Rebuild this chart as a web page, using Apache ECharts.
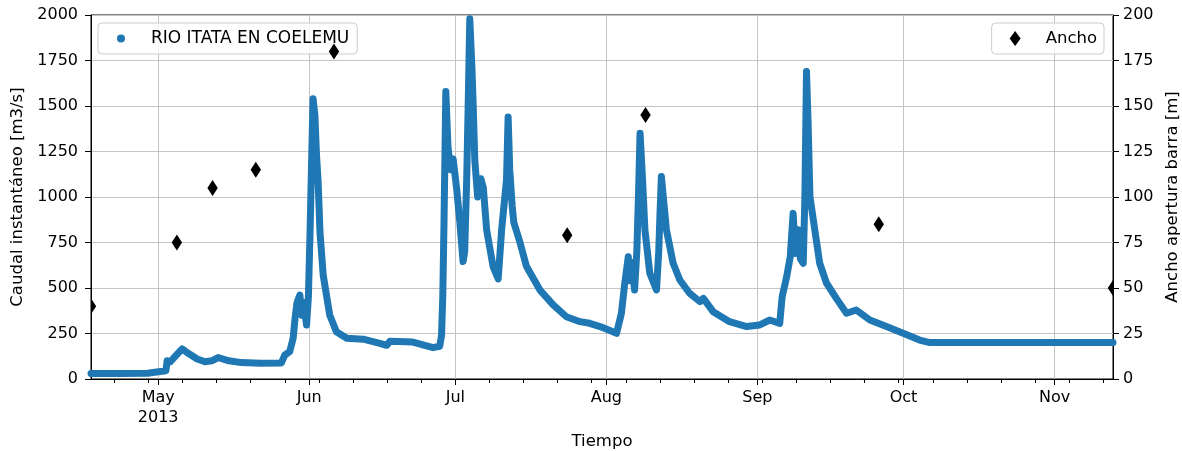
<!DOCTYPE html>
<html>
<head>
<meta charset="utf-8">
<script src="https://cdn.jsdelivr.net/npm/echarts@6/dist/echarts.min.js"></script>
<style>
html,body{margin:0;padding:0;background:#fff;}
#chart{width:1182px;height:451px;}
</style>
</head>
<body>
<div id="chart"></div>
<script>
// ---- Data ----
const flowTimes = [
 '2013-04-17 05:00','2013-04-23 00:00','2013-04-28 20:00','2013-04-29 04:00','2013-05-02 14:00','2013-05-02 20:00',
 '2013-05-03 12:00','2013-05-04 16:00','2013-05-05 22:00','2013-05-07 06:00','2013-05-09 00:00','2013-05-10 14:00',
 '2013-05-12 00:00','2013-05-13 07:00','2013-05-15 12:00','2013-05-18 02:00','2013-05-22 00:00','2013-05-26 07:00',
 '2013-05-27 00:00','2013-05-28 00:00','2013-05-28 17:00','2013-05-29 02:00','2013-05-29 12:00','2013-05-30 02:00',
 '2013-05-30 12:00','2013-05-30 20:00','2013-05-31 11:00','2013-05-31 20:00','2013-06-01 04:00','2013-06-01 12:00',
 '2013-06-01 19:00','2013-06-02 04:00','2013-06-02 12:00','2013-06-02 20:00','2013-06-03 05:00','2013-06-03 21:00',
 '2013-06-05 05:00','2013-06-06 14:00','2013-06-08 17:00','2013-06-12 02:00','2013-06-15 12:00','2013-06-16 22:00',
 '2013-06-17 14:00','2013-06-22 07:00','2013-06-26 10:00','2013-06-27 19:00','2013-06-28 04:00','2013-06-28 10:00',
 '2013-06-28 16:00','2013-06-28 21:00','2013-06-29 01:00','2013-06-29 12:00','2013-06-30 00:00','2013-06-30 13:00',
 '2013-07-01 06:00','2013-07-01 22:00','2013-07-02 14:00','2013-07-02 22:00','2013-07-03 08:00','2013-07-03 16:00',
 '2013-07-03 23:00','2013-07-04 10:00','2013-07-04 16:00','2013-07-05 00:00','2013-07-05 14:00','2013-07-06 06:00',
 '2013-07-06 18:00','2013-07-07 10:00','2013-07-08 18:00','2013-07-09 19:00','2013-07-10 12:00','2013-07-11 12:00',
 '2013-07-11 20:00','2013-07-12 04:00','2013-07-12 16:00','2013-07-13 00:00','2013-07-14 04:00','2013-07-15 14:00',
 '2013-07-18 08:00','2013-07-21 02:00','2013-07-23 19:00','2013-07-26 14:00','2013-07-28 14:00','2013-07-30 17:00',
 '2013-08-03 02:00','2013-08-04 02:00','2013-08-04 18:00','2013-08-05 12:00','2013-08-05 20:00','2013-08-06 06:00',
 '2013-08-06 19:00','2013-08-07 06:00','2013-08-07 14:00','2013-08-07 22:00','2013-08-08 10:00','2013-08-08 22:00',
 '2013-08-09 22:00','2013-08-11 07:00','2013-08-11 18:00','2013-08-12 00:00','2013-08-12 07:00','2013-08-13 08:00',
 '2013-08-14 17:00','2013-08-16 02:00','2013-08-18 02:00','2013-08-20 05:00','2013-08-20 22:00','2013-08-22 22:00',
 '2013-08-26 07:00','2013-08-29 19:00','2013-09-01 12:00','2013-09-03 12:00','2013-09-05 14:00','2013-09-06 02:00',
 '2013-09-07 00:00','2013-09-07 18:00','2013-09-08 08:00','2013-09-08 20:00','2013-09-09 08:00','2013-09-09 20:00',
 '2013-09-10 10:00','2013-09-10 18:00','2013-09-11 02:00','2013-09-11 10:00','2013-09-11 19:00','2013-09-12 19:00',
 '2013-09-13 19:00','2013-09-15 05:00','2013-09-17 05:00','2013-09-19 07:00','2013-09-21 07:00','2013-09-24 02:00',
 '2013-09-27 12:00','2013-09-30 22:00','2013-10-04 07:00','2013-10-06 10:00','2013-11-13 00:00'
];
const flowValues = [
 30,30,32,42,45,100,
 95,130,165,140,110,95,
 100,118,100,90,86,88,
 132,150,225,330,420,461,
 350,420,297,450,800,1200,
 1540,1450,1231,1084,809,571,
 352,260,224,219,196,185,
 208,203,172,180,240,450,
 850,1250,1580,1270,1150,1210,
 1050,864,645,700,1100,1550,
 1980,1700,1500,1200,1000,1100,
 1050,820,617,550,819,1094,
 1440,1150,950,860,760,620,
 490,407,342,315,306,288,
 251,361,520,672,540,640,
 489,700,1000,1350,1100,819,
 581,489,700,900,1112,819,
 636,544,471,425,443,370,
 315,288,297,324,306,452,
 560,672,910,690,820,660,
 636,1000,1690,1400,1002,819,
 636,526,443,361,379,324,
 288,251,214,200,200
];
const anchoTimes = ['2013-04-17 05:00','2013-05-04 20:00','2013-05-12 04:00','2013-05-21 01:00','2013-06-06 02:00',
 '2013-07-23 23:00','2013-08-09 01:00','2013-09-25 22:00','2013-11-13 00:00'];
const anchoValues = [40,75,105,115,180,79,145,85,50];

const xMin = '2013-04-17 05:00';
const xMax = '2013-11-13 00:00';
const monthTicks = ['2013-05-01 00:00','2013-06-01 00:00','2013-07-01 00:00','2013-08-01 00:00','2013-09-01 00:00','2013-10-01 00:00','2013-11-01 00:00'];
const monthLabels = ['May\n2013','Jun','Jul','Aug','Sep','Oct','Nov'];
const weekTicks = ['2013-04-22 00:00','2013-04-29 00:00','2013-05-06 00:00','2013-05-13 00:00','2013-05-20 00:00','2013-05-27 00:00',
 '2013-06-03 00:00','2013-06-10 00:00','2013-06-17 00:00','2013-06-24 00:00','2013-07-01 00:00','2013-07-08 00:00',
 '2013-07-15 00:00','2013-07-22 00:00','2013-07-29 00:00','2013-08-05 00:00','2013-08-12 00:00','2013-08-19 00:00',
 '2013-08-26 00:00','2013-09-02 00:00','2013-09-09 00:00','2013-09-16 00:00','2013-09-23 00:00','2013-09-30 00:00',
 '2013-10-07 00:00','2013-10-14 00:00','2013-10-21 00:00','2013-10-28 00:00','2013-11-04 00:00','2013-11-11 00:00'];

const leftTitle = 'Caudal instantáneo [m3/s]';
const rightTitle = 'Ancho apertura barra [m]';
const xTitle = 'Tiempo';
const flowName = 'RIO ITATA EN COELEMU';
const anchoName = 'Ancho';

// ---- helpers ----
function ts(s){ return new Date(s.replace(' ', 'T') + ':00').getTime(); }
const monthTs = monthTicks.map(ts);
const weekTs = weekTicks.map(ts);

const FONT = 'DejaVu Sans';
const flowData = flowTimes.map((t,i)=>[ts(t), flowValues[i]]);
const anchoData = anchoTimes.map((t,i)=>[ts(t), anchoValues[i]]);

const chart = echarts.init(document.getElementById('chart'), null, {renderer:'canvas'});
const option = {
  animation: false,
  backgroundColor: '#ffffff',
  textStyle: { fontFamily: FONT, color: '#000' },
  grid: { left: 91, right: 69, top: 15, bottom: 72, outerBoundsMode: 'none', containLabel: false,
          show: true, borderColor: '#000', borderWidth: 1, backgroundColor: 'transparent' },
  legend: [
    {
      data: [{ name: flowName, icon: 'circle' }],
      left: 98, top: 23, z: 1,
      orient: 'horizontal',
      padding: [7, 8, 7, 19],
      itemWidth: 8, itemHeight: 9,
      lineStyle: { opacity: 0 },
      backgroundColor: 'rgba(255,255,255,0.8)',
      borderColor: '#cccccc', borderWidth: 1, borderRadius: 4,
      textStyle: { fontFamily: FONT, fontSize: 17, color: '#000', lineHeight: 17, padding: [0,0,0,21] },
      selectedMode: false
    },
    {
      data: [{ name: anchoName, icon: 'diamond' }],
      right: 78, top: 23, z: 1,
      padding: [7, 7, 7, 18],
      itemWidth: 11, itemHeight: 15,
      backgroundColor: 'rgba(255,255,255,0.8)',
      borderColor: '#cccccc', borderWidth: 1, borderRadius: 4,
      textStyle: { fontFamily: FONT, fontSize: 16.5, color: '#000', lineHeight: 17, padding: [0,0,0,20] },
      selectedMode: false
    }
  ],
  xAxis: [
    {
      type: 'value', position: 'bottom',
      min: ts(xMin), max: ts(xMax),
      name: xTitle, nameLocation: 'middle', nameGap: 49,
      nameTextStyle: { fontFamily: FONT, fontSize: 16.5, color: '#000' },
      axisLine: { show: true, onZero: false, lineStyle: { color: '#000', width: 1 } },
      axisTick: { show: true, customValues: monthTs, length: 6, lineStyle: { color: '#000', width: 1 } },
      axisLabel: {
        customValues: monthTs, margin: 9, fontFamily: FONT, fontSize: 16, color: '#000', lineHeight: 20,
        formatter: function (v) { const i = monthTs.indexOf(v); return i >= 0 ? monthLabels[i] : ''; }
      },
      splitLine: { show: true, lineStyle: { color: '#c4c4c4', width: 1 } }
    },
    {
      type: 'value', position: 'top', offset: -364,
      min: ts(xMin), max: ts(xMax),
      axisLine: { show: false, onZero: false },
      axisTick: { show: true, inside: true, customValues: weekTs, length: 4, lineStyle: { color: '#000', width: 1 } },
      axisLabel: { show: false, customValues: weekTs },
      splitLine: { show: false }
    }
  ],
  yAxis: [
    {
      type: 'value', position: 'left', min: 0, max: 2000, interval: 250,
      name: leftTitle, nameLocation: 'middle', nameGap: 65, nameRotate: 90,
      nameTextStyle: { fontFamily: FONT, fontSize: 16.5, color: '#000' },
      axisLine: { show: true, onZero: false, lineStyle: { color: '#000', width: 1 } },
      axisTick: { show: true, length: 6, lineStyle: { color: '#000', width: 1 } },
      axisLabel: { margin: 13, fontFamily: FONT, fontSize: 16, color: '#000', formatter: v => String(v) },
      splitLine: { show: true, lineStyle: { color: '#c4c4c4', width: 1 } }
    },
    {
      type: 'value', position: 'right', min: 0, max: 200, interval: 25,
      name: rightTitle, nameLocation: 'middle', nameGap: 42, nameRotate: 90,
      nameTextStyle: { fontFamily: FONT, fontSize: 16.5, color: '#000' },
      axisLine: { show: true, onZero: false, lineStyle: { color: '#000', width: 1 } },
      axisTick: { show: true, length: 6, lineStyle: { color: '#000', width: 1 } },
      axisLabel: { margin: 10, fontFamily: FONT, fontSize: 16, color: '#000', formatter: v => String(v) },
      splitLine: { show: false }
    }
  ],
  series: [
    {
      name: flowName, type: 'line', xAxisIndex: 0, yAxisIndex: 0,
      data: flowData, showSymbol: false, symbol: 'circle', symbolSize: 7,
      color: '#1f77b4',
      itemStyle: { color: '#1f77b4' },
      lineStyle: { color: '#1f77b4', width: 7, cap: 'round', join: 'round' },
      sampling: null, z: 2, clip: true
    },
    {
      name: anchoName, type: 'custom', xAxisIndex: 0, yAxisIndex: 1,
      data: anchoData, clip: true, z: 5,
      itemStyle: { color: '#000' },
      renderItem: function (params, api) {
        const p = api.coord([api.value(0), api.value(1)]);
        const hw = 5.2, hh = 8;
        const pts = [[p[0], p[1]-hh],[p[0]+hw, p[1]],[p[0], p[1]+hh],[p[0]-hw, p[1]]];
        const cs = params.coordSys;
        const clipped = echarts.graphic.clipPointsByRect(pts, { x: cs.x, y: cs.y, width: cs.width, height: cs.height });
        return {
          type: 'polygon',
          shape: { points: clipped },
          style: { fill: '#000', stroke: null }
        };
      }
    }
  ]
};
chart.setOption(option);
</script>
</body>
</html>
